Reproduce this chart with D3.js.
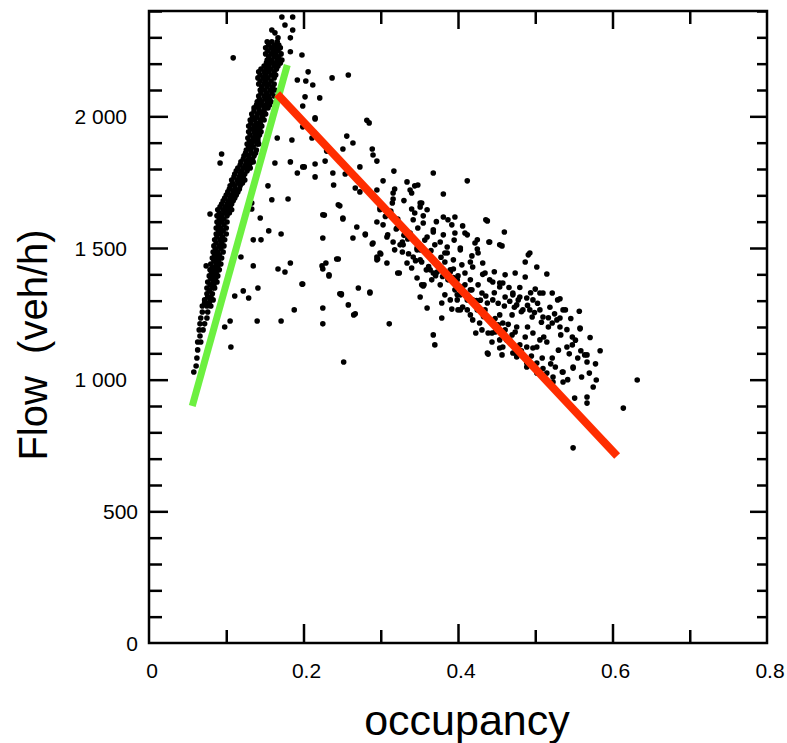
<!DOCTYPE html>
<html>
<head>
<meta charset="utf-8">
<script src="https://d3js.org/d3.v7.min.js"></script>
<style>
  body { margin: 0; background: #fff; }
  svg { display: block; font-family: "Liberation Sans", Arial, Helvetica, sans-serif; }
</style>
</head>
<body>
<div id="chart"></div>
<script>

// tick labels
var xLabels = [0, 0.2, 0.4, 0.6, 0.8];
var yLabels = [0, 500, 1000, 1500, 2000];

// fitted branches: [occupancy, flow]
var freeFlowFit = [[0.056, 900], [0.179, 2195]];
var congestedFit = [[0.166, 2085], [0.606, 710]];

// dense free-flow band (occupancy, flow)
var freeFlowBand = [
  [0.172,2377],[0.186,2377],[0.176,2347],[0.186,2328],[0.183,2298],[0.163,2317],[0.159,2328],[0.167,2298],
  [0.153,2283],[0.159,2283],[0.166,2283],
  [0.151,2260],[0.158,2260],[0.164,2260],[0.170,2260],
  [0.151,2237],[0.158,2237],[0.164,2237],[0.171,2237],
  [0.153,2214],[0.159,2214],[0.166,2214],[0.172,2214],
  [0.149,2191],[0.155,2191],[0.162,2191],[0.167,2191],
  [0.142,2169],[0.149,2169],[0.155,2169],[0.162,2169],
  [0.141,2146],[0.148,2146],[0.154,2146],[0.162,2146],
  [0.142,2123],[0.149,2123],[0.155,2123],[0.162,2123],
  [0.144,2100],[0.150,2100],[0.157,2100],[0.163,2100],
  [0.142,2077],[0.149,2077],[0.155,2077],[0.162,2077],
  [0.140,2055],[0.146,2055],[0.153,2055],[0.158,2055],
  [0.136,2032],[0.142,2032],[0.149,2032],[0.154,2032],
  [0.133,2009],[0.140,2009],[0.146,2009],[0.151,2009],
  [0.131,1986],[0.137,1986],[0.144,1986],[0.149,1986],
  [0.129,1963],[0.136,1963],[0.142,1963],[0.146,1963],
  [0.129,1941],[0.136,1941],[0.141,1941],[0.145,1941],
  [0.128,1918],[0.135,1918],[0.141,1918],
  [0.127,1895],[0.133,1895],[0.140,1895],[0.142,1895],
  [0.126,1872],[0.132,1872],[0.139,1872],
  [0.123,1850],[0.129,1850],[0.136,1850],
  [0.119,1827],[0.126,1827],[0.132,1827],[0.135,1827],
  [0.115,1804],[0.122,1804],[0.128,1804],[0.131,1804],
  [0.111,1781],[0.118,1781],[0.124,1781],
  [0.107,1758],[0.114,1758],[0.120,1758],[0.124,1758],
  [0.105,1736],[0.111,1736],[0.118,1736],
  [0.102,1713],[0.109,1713],[0.115,1713],
  [0.098,1690],[0.105,1690],[0.111,1690],
  [0.094,1667],[0.101,1667],[0.107,1667],
  [0.089,1645],[0.096,1645],[0.102,1645],[0.107,1645],
  [0.088,1622],[0.094,1622],[0.101,1622],
  [0.088,1599],[0.094,1599],[0.101,1599],
  [0.087,1576],[0.093,1576],[0.100,1576],
  [0.087,1553],[0.093,1553],[0.100,1553],
  [0.085,1531],[0.092,1531],[0.098,1531],
  [0.084,1508],[0.091,1508],[0.097,1508],
  [0.083,1485],[0.089,1485],[0.096,1485],
  [0.082,1462],[0.088,1462],[0.094,1462],
  [0.080,1439],[0.087,1439],[0.093,1439],
  [0.079,1417],[0.085,1417],[0.091,1417],
  [0.078,1394],[0.084,1394],[0.089,1394],
  [0.076,1371],[0.083,1371],[0.088,1371],
  [0.075,1348],[0.082,1348],[0.085,1348],
  [0.075,1326],[0.082,1326],
  [0.072,1303],[0.079,1303],[0.083,1303],
  [0.069,1280],[0.075,1280],[0.080,1280],
  [0.069,1257],[0.076,1257],
  [0.067,1234],[0.075,1234],
  [0.066,1212],[0.072,1212],
  [0.065,1189],[0.070,1189],
  [0.066,1166],
  [0.063,1143],[0.067,1143],
  [0.063,1113],[0.062,1082],[0.061,1052],[0.058,1029],
  // in-between readings of the same band
  [0.155,2271],[0.162,2271],[0.168,2271],
  [0.154,2249],[0.161,2249],[0.167,2249],
  [0.155,2226],[0.162,2226],[0.168,2226],
  [0.152,2203],[0.158,2203],[0.164,2203],[0.170,2203],
  [0.145,2180],[0.152,2180],[0.158,2180],[0.165,2180],
  [0.144,2157],[0.151,2157],[0.158,2157],[0.164,2157],
  [0.144,2134],[0.151,2134],[0.158,2134],
  [0.146,2112],[0.153,2112],[0.160,2112],
  [0.145,2089],[0.152,2089],[0.159,2089],
  [0.143,2066],[0.150,2066],[0.156,2066],
  [0.139,2043],[0.145,2043],[0.151,2043],[0.156,2043],
  [0.136,2020],[0.143,2020],[0.149,2020],
  [0.134,1997],[0.140,1997],[0.147,1997],
  [0.132,1974],[0.139,1974],[0.144,1974],
  [0.132,1952],[0.138,1952],[0.143,1952],
  [0.131,1929],[0.138,1929],[0.143,1929],
  [0.130,1906],[0.136,1906],[0.141,1906],
  [0.129,1884],[0.135,1884],
  [0.125,1861],[0.132,1861],[0.138,1861],
  [0.122,1838],[0.129,1838],[0.134,1838],
  [0.118,1815],[0.125,1815],[0.130,1815],
  [0.113,1793],[0.120,1793],[0.127,1793],
  [0.110,1770],[0.117,1770],[0.122,1770],
  [0.108,1747],[0.115,1747],[0.121,1747],
  [0.104,1724],[0.111,1724],[0.117,1724],
  [0.100,1701],[0.107,1701],[0.113,1701],
  [0.096,1679],[0.103,1679],[0.109,1679],
  [0.092,1656],[0.099,1656],[0.105,1656],
  [0.091,1633],[0.098,1633],[0.104,1633],
  [0.091,1610],[0.097,1610],
  [0.090,1588],[0.097,1588],
  [0.090,1565],[0.096,1565],
  [0.088,1542],[0.095,1542],
  [0.087,1520],[0.094,1520],
  [0.086,1497],[0.093,1497],
  [0.085,1474],[0.091,1474],
  [0.084,1451],[0.090,1451],
  [0.082,1428],[0.089,1428],
  [0.081,1405],[0.087,1405],
  [0.080,1383],[0.086,1383],
  [0.079,1360],[0.084,1360],
  [0.078,1337],
  [0.076,1314],[0.080,1314],
  [0.072,1292],[0.078,1292]
];

// sparse points between the two branches
var transitionPoints = [
  [0.109,2222],[0.183,2245],[0.198,2233],[0.206,2169],[0.237,2146],[0.203,2134],[0.192,2138],[0.212,2119],
  [0.202,2074],[0.221,2070],[0.215,1994],[0.199,1960],[0.166,1918],[0.185,1910],[0.230,1872],[0.094,1857],
  [0.092,1823],[0.163,1823],[0.183,1827],[0.199,1808],[0.215,1819],[0.238,1785],[0.192,1785],[0.215,1770],
  [0.258,2157],[0.154,1736],[0.159,1683],[0.180,1686],[0.239,1739],[0.245,1664],[0.133,1671],[0.133,1648],
  [0.144,1614],[0.227,1625],[0.155,1565],[0.171,1553],[0.135,1531],[0.145,1531],[0.225,1538],[0.079,1629],
  [0.091,1626],[0.119,1466],[0.135,1432],[0.183,1443],[0.167,1420],[0.176,1409],[0.229,1443],[0.225,1420],
  [0.243,1458],[0.233,1394],[0.074,1432],[0.141,1348],[0.122,1337],[0.111,1318],[0.129,1310],[0.198,1363],
  [0.188,1265],[0.225,1272],[0.140,1223],[0.171,1223],[0.225,1212],[0.105,1223],[0.098,1200],[0.106,1124],
  [0.247,1326],[0.251,1610],[0.269,1580],[0.280,1553],[0.264,1538],[0.290,1519],[0.300,1477],[0.295,1455],
  [0.308,1443],[0.322,1405],[0.271,1348],[0.286,1333],[0.249,1322],[0.258,1284],[0.265,1246],[0.311,1212],
  [0.252,1067],[0.199,2039],[0.215,1990],[0.282,1985],[0.285,1975],[0.256,1925],[0.264,1899],[0.211,1918],
  [0.251,1876],[0.289,1876],[0.290,1853],[0.230,1868],[0.295,1830],[0.228,1830],[0.201,1808],[0.273,1808],
  [0.254,1781],[0.267,1728],[0.273,1713],[0.247,1660],[0.225,1626],[0.251,1614],[0.280,1550],[0.289,1515],
  [0.295,1466],[0.299,1481],[0.224,1432],[0.245,1458],[0.233,1398],[0.296,1458],[0.199,1363],[0.249,1326],
  [0.286,1329],[0.267,1250]
];

// congested cloud
var congestedPoints = [
  [0.295,1720],[0.316,1709],[0.299,1645],[0.295,1599],[0.303,1588],[0.320,1572],[0.328,1523],[0.338,1557],
  [0.347,1500],[0.355,1595],[0.344,1633],[0.353,1671],[0.340,1709],[0.348,1739],[0.308,1542],[0.316,1523],
  [0.329,1512],[0.317,1792],[0.368,1785],[0.303,1755],[0.334,1751],[0.338,1720],[0.344,1736],[0.318,1724],
  [0.316,1686],[0.412,1755],[0.381,1705],[0.299,1652],[0.315,1671],[0.340,1648],[0.351,1656],[0.355,1622],
  [0.321,1576],[0.348,1576],[0.368,1561],[0.387,1607],[0.396,1618],[0.406,1584],[0.436,1607],[0.460,1561],
  [0.309,1550],[0.325,1512],[0.335,1534],[0.347,1493],[0.360,1542],[0.381,1550],[0.412,1550],[0.425,1531],
  [0.386,1504],[0.403,1500],[0.425,1496],[0.441,1523],[0.457,1508],[0.334,1443],[0.353,1447],[0.368,1405],
  [0.383,1481],[0.394,1455],[0.409,1405],[0.419,1428],[0.435,1405],[0.445,1371],[0.458,1367],[0.474,1405],
  [0.491,1474],[0.487,1447],[0.502,1428],[0.515,1401],[0.324,1405],[0.347,1386],[0.353,1360],[0.351,1314],
  [0.360,1272],[0.356,1360],[0.379,1291],[0.368,1170],[0.370,1132],[0.392,1268],[0.379,1234],[0.399,1303],
  [0.406,1276],[0.412,1265],[0.419,1303],[0.431,1329],[0.438,1291],[0.445,1303],[0.454,1352],[0.461,1314],
  [0.471,1329],[0.480,1314],[0.476,1284],[0.493,1265],[0.497,1303],[0.506,1329],[0.510,1238],[0.522,1329],
  [0.532,1307],[0.539,1265],[0.528,1227],[0.517,1200],[0.532,1200],[0.558,1193],[0.548,1162],[0.541,1124],
  [0.567,1094],[0.555,1082],[0.549,1044],[0.567,1067],[0.579,999],[0.575,972],[0.551,930],[0.567,934],
  [0.567,911],[0.614,892],[0.632,999],[0.549,741],[0.438,1101],[0.457,1094],[0.471,1101],[0.458,1124],
  [0.444,1143],[0.444,1177],[0.428,1215],[0.419,1227],[0.454,1246],[0.476,1200],[0.497,1177],[0.506,1151],
  [0.497,1120],[0.489,1063],[0.509,1082],[0.522,1082],[0.526,1048],[0.536,1029],[0.502,1025],[0.523,1010],
  [0.536,991],[0.517,987],[0.480,1132],[0.476,1086],[0.364,1417],[0.373,1436],[0.383,1447],[0.390,1417],
  [0.400,1394],[0.409,1360],[0.416,1379],[0.387,1379],[0.396,1341],[0.377,1360],[0.366,1379],[0.405,1436],
  [0.416,1341],[0.426,1360],[0.403,1322],[0.390,1303],[0.435,1265],[0.441,1227],[0.452,1208],[0.461,1189],
  [0.467,1151],[0.454,1151],[0.431,1189],[0.416,1246],[0.400,1265],[0.383,1322],[0.351,1493],[0.342,1466],
  [0.361,1474],[0.370,1512],[0.328,1485],[0.318,1493],[0.340,1424],[0.359,1417],[0.351,1455],[0.355,1356],
  [0.439,1177],[0.439,1097],[0.474,1101],[0.489,1048],[0.502,1063],[0.515,1025],[0.523,991],[0.535,1029],
  [0.549,1048],[0.564,1094],[0.570,1025],[0.558,1196],[0.548,1132],[0.532,1234],[0.536,1265],[0.529,1303],
  [0.522,1215],[0.511,1162],[0.515,1143],[0.502,1124],[0.493,1481],[0.487,1390],[0.500,1344],[0.510,1329],
  [0.438,1603],[0.440,1523],[0.454,1512],[0.381,1618],[0.392,1588],[0.409,1557],[0.422,1519],[0.396,1557],
  [0.403,1493],[0.416,1447],[0.426,1481],[0.432,1443],[0.441,1379],[0.454,1367],[0.461,1398],[0.471,1322],
  [0.478,1303],[0.489,1310],[0.484,1265],[0.496,1238],[0.506,1265],[0.470,1246],[0.458,1215],[0.474,1181],
  [0.487,1162],[0.489,1124],[0.463,1151],[0.454,1120],[0.448,1181],[0.412,1303],[0.418,1341],[0.425,1265],
  [0.399,1322],[0.403,1265],[0.360,1645],[0.351,1671],[0.342,1607],[0.368,1569],[0.377,1523],[0.386,1481],
  [0.373,1409],[0.390,1409],[0.399,1379],
  [0.336,1478],[0.345,1452],[0.362,1430],[0.371,1395],[0.380,1392],[0.394,1388],[0.405,1352],[0.413,1318],
  [0.421,1290],[0.429,1302],[0.436,1318],[0.447,1330],[0.452,1290],[0.460,1280],[0.467,1298],[0.473,1275],
  [0.482,1258],[0.490,1282],[0.499,1255],[0.508,1218],[0.517,1235],[0.525,1250],[0.533,1170],[0.541,1190],
  [0.552,1150],[0.559,1110],[0.544,1098],[0.530,1112],[0.520,1060],[0.510,1042],[0.495,1090],[0.482,1110],
  [0.465,1210],[0.448,1232],[0.433,1240],[0.424,1300],[0.408,1330],[0.394,1420],[0.378,1465],[0.365,1490],
  [0.357,1530],[0.330,1548],[0.322,1610],[0.306,1620],[0.313,1640],[0.330,1680],[0.372,1600],[0.395,1530],
  [0.418,1470],[0.432,1400],[0.447,1410],[0.466,1350],[0.480,1350],[0.494,1330],[0.503,1290],[0.519,1275],
  [0.546,1232],[0.557,1260],[0.571,1160],[0.584,1110],[0.578,1060],[0.560,1010],[0.542,1000],[0.490,1200],
  [0.470,1170],[0.456,1175],[0.423,1177]
];

// set the dimensions and margins of the graph
var margin = { top: 11, right: 20, bottom: 100, left: 149 },
    width = 767 - margin.left,
    height = 643 - margin.top;

var svg = d3.select("#chart")
    .append("svg")
    .attr("width", 787)
    .attr("height", 743)
    .append("g")
    .attr("transform", "translate(" + margin.left + "," + margin.top + ")");

var x = d3.scaleLinear().domain([0, 0.8]).range([0, width]);
var y = d3.scaleLinear().domain([0, 2400]).range([height, 0]);

var xMinor = d3.range(0, 0.81, 0.1).filter(function (d) { return Math.round(d * 10) % 2 == 1; });
var xMajor = [0.2, 0.4, 0.6];
var yMinor = d3.range(0, 2401, 100).filter(function (d) { return d % 500 != 0; });
var yMajor = [500, 1000, 1500, 2000];

// inward ticks on all four sides
function ticks(g) {
    g.select(".domain").remove();
    g.selectAll("line").attr("stroke-width", 2.5);
}
function addAxis(axis, values, size, tx, ty) {
    svg.append("g")
        .attr("transform", "translate(" + tx + "," + ty + ")")
        .call(axis.tickValues(values).tickSize(-size).tickFormat(""))
        .call(ticks);
}
addAxis(d3.axisLeft(y), yMinor, 13, 0, 0);
addAxis(d3.axisLeft(y), yMajor, 19, 0, 0);
addAxis(d3.axisRight(y), yMinor, 10, width, 0);
addAxis(d3.axisRight(y), yMajor, 17, width, 0);
addAxis(d3.axisBottom(x), xMinor, 13, 0, height);
addAxis(d3.axisBottom(x), xMajor, 19, 0, height);
addAxis(d3.axisTop(x), xMinor, 13, 0, 0);
addAxis(d3.axisTop(x), xMajor, 18, 0, 0);

svg.append("rect")
    .attr("x", 0).attr("y", 0)
    .attr("width", width).attr("height", height)
    .attr("fill", "none")
    .attr("stroke", "#000")
    .attr("stroke-width", 2.5);

// tick labels
var fmt = d3.formatLocale({ decimal: ".", thousands: " ", grouping: [3], currency: ["", ""] }).format(",");
svg.selectAll(".ylab")
    .data(yLabels)
    .enter()
    .append("text")
    .attr("x", function (d) { return d >= 1000 ? -22 : -11; })
    .attr("y", function (d) { return y(d); })
    .attr("dy", "0.36em")
    .attr("text-anchor", "end")
    .style("font-size", "21px")
    .text(function (d) { return fmt(d); });

svg.selectAll(".xlab")
    .data(xLabels)
    .enter()
    .append("text")
    .attr("x", function (d) { return x(d) + 3; })
    .attr("y", height + 35)
    .attr("text-anchor", "middle")
    .style("font-size", "21px")
    .text(function (d) { return d; });

// axis titles
svg.append("text")
    .attr("transform", "translate(" + (47 - margin.left) + "," + (345 - margin.top) + ") rotate(-90)")
    .attr("text-anchor", "middle")
    .style("font-size", "40px")
    .style("white-space", "pre")
    .text("Flow  (veh/h)");

svg.append("text")
    .attr("x", 467 - margin.left)
    .attr("y", 735 - margin.top)
    .attr("text-anchor", "middle")
    .style("font-size", "43px")
    .text("occupancy");

// dots
var allPoints = freeFlowBand.concat(transitionPoints, congestedPoints);
svg.append("g")
    .selectAll("circle")
    .data(allPoints)
    .enter()
    .append("circle")
    .attr("cx", function (d) { return x(d[0]); })
    .attr("cy", function (d) { return y(d[1]); })
    .attr("r", 2.8)
    .attr("fill", "#000");

// fitted lines
var line = d3.line()
    .x(function (d) { return x(d[0]); })
    .y(function (d) { return y(d[1]); });

svg.append("path")
    .datum(freeFlowFit)
    .attr("d", line)
    .attr("stroke", "#6cf040")
    .attr("stroke-width", 7)
    .attr("fill", "none");

svg.append("path")
    .datum(congestedFit)
    .attr("d", line)
    .attr("stroke", "#ff2d00")
    .attr("stroke-width", 8)
    .attr("fill", "none");

</script>
</body>
</html>
